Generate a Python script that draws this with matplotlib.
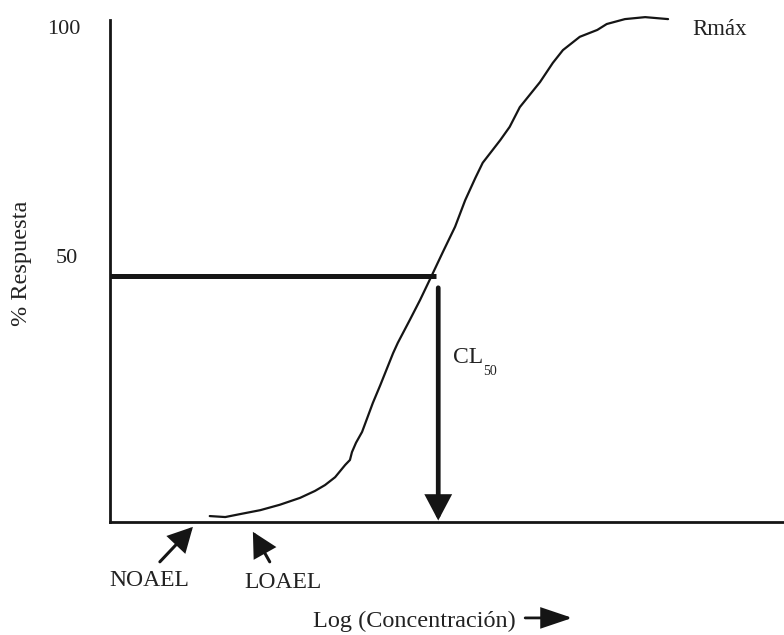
import matplotlib
matplotlib.use("Agg")
import matplotlib.pyplot as plt

plt.rcParams['font.family'] = ['Liberation Serif', 'DejaVu Serif']

# Dose-response curve: log concentration (relative units) vs % response
log_conc = [14.8, 17.1, 19.3, 22.3, 25.2, 28.2, 30.4, 31.9, 33.4, 34.9, 35.6,
            35.9, 36.5, 37.4, 39.0, 40.1, 42.0, 42.7, 44.5, 46.0, 47.5, 49.4,
            51.2, 52.7, 54.2, 55.3, 57.9, 59.3, 60.8, 63.8, 65.7, 67.2, 69.7,
            72.3, 73.7, 76.4, 79.4, 82.8]
response = [1.2, 1.0, 1.6, 2.4, 3.5, 4.9, 6.3, 7.5, 9.1, 11.6, 12.6,
            14.2, 16.1, 18.3, 24.2, 27.8, 34.3, 36.4, 41.1, 45.1, 49.4, 54.9,
            60.0, 65.4, 69.9, 73.0, 77.6, 80.3, 84.3, 89.4, 93.3, 95.9, 98.6,
            100.0, 101.2, 102.2, 102.6, 102.2]

cl50_x = 48.7
half_response = 50
y_tick_values = [100, 50]
y_tick_labels = ["100", "50"]

ink = "#151515"
txt = "#222222"

fig = plt.figure(figsize=(7.84, 6.35), dpi=100)
ax = fig.add_axes([0.1403, 0.178, 0.8597, 0.7906])
ax.set_xlim(0, 100)
ax.set_ylim(0, 102.03)

for side in ("top", "right"):
    ax.spines[side].set_visible(False)
for side in ("left", "bottom"):
    ax.spines[side].set_linewidth(2.0)
    ax.spines[side].set_color(ink)
ax.set_xticks([])
ax.set_yticks([])

# curve
ax.plot(log_conc, response, color=ink, lw=1.6, clip_on=False,
        solid_capstyle="round")

# horizontal 50 % line up to the curve
ax.plot([0, 48.3], [half_response, half_response], color=ink, lw=3.6,
        solid_capstyle="butt")

# CL50 arrow down to the axis
ax.annotate("", xy=(cl50_x, 0.3), xytext=(cl50_x, 47.6),
            arrowprops=dict(arrowstyle="-|>,head_length=0.68,head_width=0.36",
                            mutation_scale=20, color=ink, lw=3.4,
                            joinstyle="miter", shrinkA=0, shrinkB=0))
ax.text(50.9, 33.5, "CL", fontsize=17, color=txt, va="center", ha="left")
ax.text(55.4, 30.6, "50", fontsize=10, color=txt, va="center", ha="left")

# y labels
ax.text(-4.45, y_tick_values[0], y_tick_labels[0], fontsize=16, color=txt,
        ha="right", va="center", clip_on=False)
ax.text(-4.75, 53.5, y_tick_labels[1], fontsize=16, color=txt,
        ha="right", va="center", clip_on=False)
ax.text(-13.2, 52.6, "% Respuesta", fontsize=17.5, color=txt, rotation=90,
        ha="center", va="center", clip_on=False)

ax.text(86.4, 100, "Rmáx", fontsize=16.5, color=txt, ha="left", va="center")

# NOAEL / LOAEL markers
arrow_small = dict(arrowstyle="-|>,head_length=0.8,head_width=0.42",
                   mutation_scale=18, color=ink, lw=2.2,
                   joinstyle="miter", shrinkA=0, shrinkB=0)
ax.annotate("", xy=(12.3, -1.0), xytext=(7.4, -8.1),
            arrowprops=arrow_small, annotation_clip=False)
ax.annotate("", xy=(21.2, -2.0), xytext=(23.7, -8.1),
            arrowprops=arrow_small, annotation_clip=False)
ax.text(5.9, -11.8, "NOAEL", fontsize=17, color=txt, ha="center",
        va="center", clip_on=False)
ax.text(25.7, -12.4, "LOAEL", fontsize=17, color=txt, ha="center",
        va="center", clip_on=False)

# x label with direction arrow
ax.text(45.2, -20.3, "Log (Concentración)", fontsize=17.5, color=txt,
        ha="center", va="center", clip_on=False)
ax.annotate("", xy=(68.6, -19.5), xytext=(61.6, -19.5),
            arrowprops=dict(arrowstyle="-|>,head_length=0.95,head_width=0.32",
                            mutation_scale=20, color=ink, lw=2.0,
                            joinstyle="miter", shrinkA=0, shrinkB=0),
            annotation_clip=False)

fig.savefig("out.png", dpi=100)
